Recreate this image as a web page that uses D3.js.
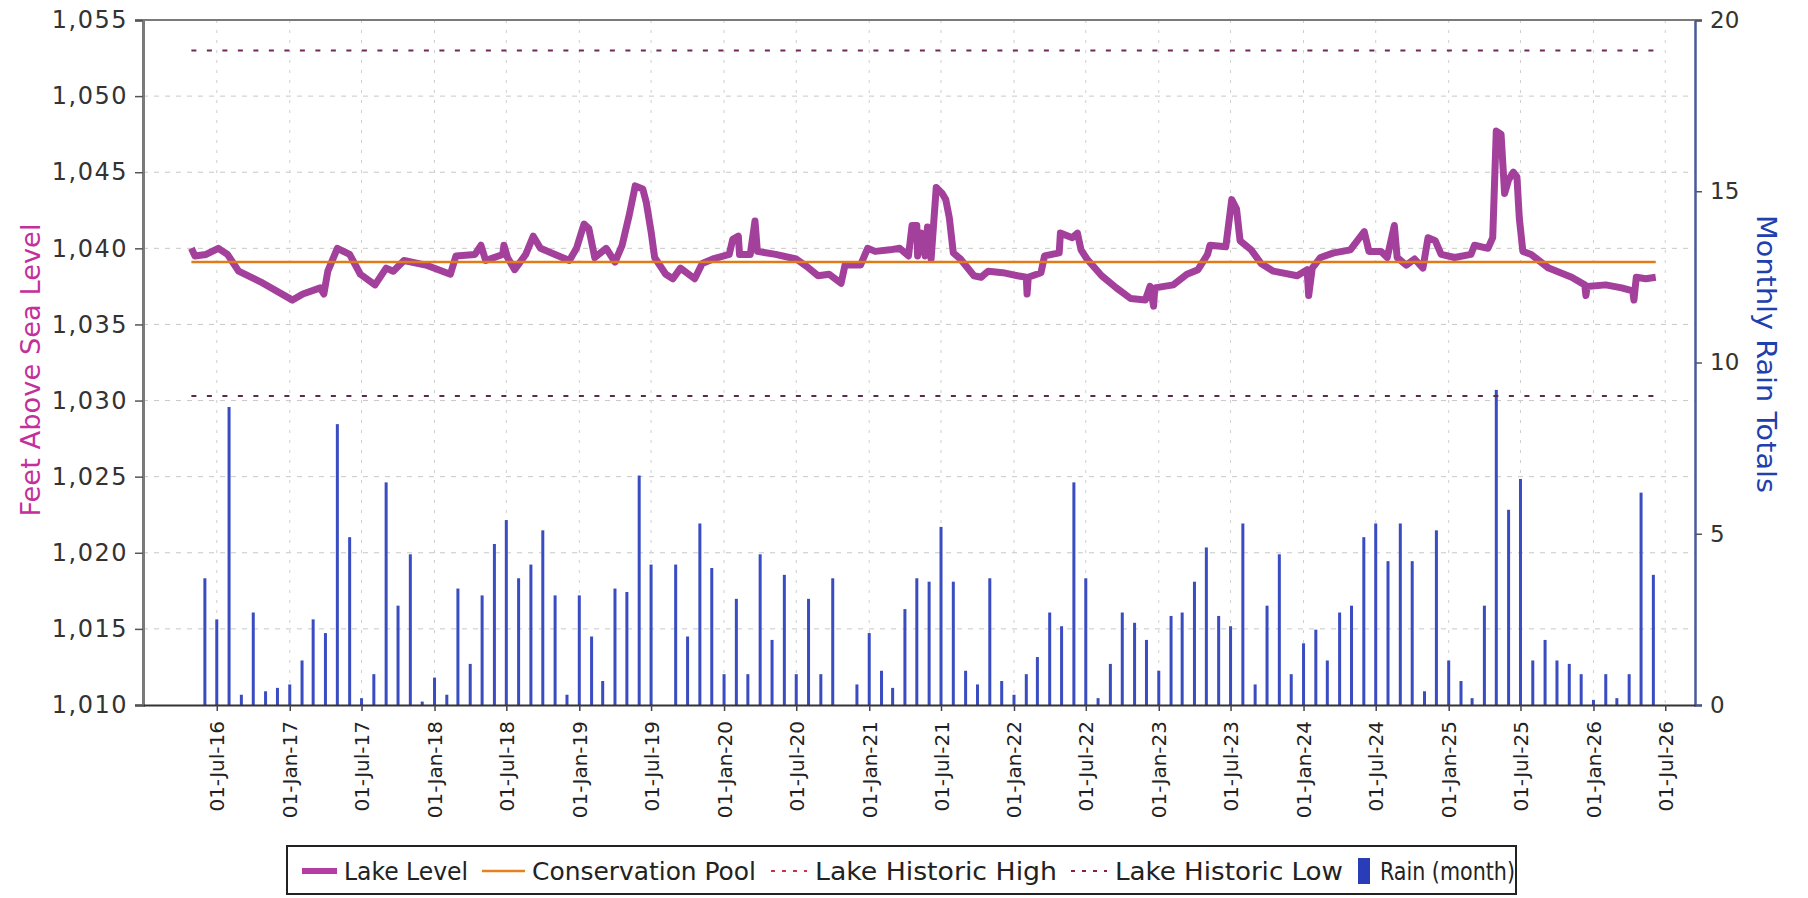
<!DOCTYPE html>
<html>
<head>
<meta charset="utf-8">
<script src="https://cdn.jsdelivr.net/npm/d3@7"></script>
<style>
  body { margin: 0; background: #fff; }
  svg { display: block; }
</style>
</head>
<body>
<svg id="chart" width="1808" height="898"></svg>
<script>
'use strict';

// lake level readings
var levelDates = [
  '2016-04-28','2016-05-07','2016-06-04','2016-07-05','2016-07-28','2016-08-25','2016-10-19',
  '2017-01-08','2017-02-03','2017-03-19','2017-03-28','2017-04-07','2017-05-01','2017-06-01',
  '2017-06-28','2017-08-04','2017-09-01','2017-09-19','2017-10-16','2017-12-10','2018-02-10',
  '2018-02-24','2018-04-13','2018-04-28','2018-05-10','2018-06-22','2018-06-25','2018-07-04',
  '2018-07-22','2018-08-19','2018-09-07','2018-09-25','2018-11-01','2018-12-07','2018-12-25',
  '2019-01-13','2019-01-25','2019-02-09','2019-03-10','2019-04-01','2019-04-19','2019-05-07',
  '2019-05-22','2019-06-10','2019-06-19','2019-07-01','2019-07-10','2019-08-07','2019-08-25',
  '2019-09-13','2019-10-19','2019-11-07','2019-12-04','2019-12-18',
  '2020-01-14','2020-01-23','2020-02-06','2020-02-09','2020-03-07','2020-03-19','2020-03-25',
  '2020-05-10','2020-07-01','2020-07-28','2020-08-25','2020-09-22','2020-10-22','2020-11-01',
  '2020-12-10','2020-12-28','2021-01-16','2021-02-22','2021-03-19','2021-04-10','2021-04-19',
  '2021-05-01','2021-05-03','2021-05-13','2021-05-22','2021-05-28','2021-06-06','2021-06-19',
  '2021-07-04','2021-07-13','2021-07-22','2021-08-01','2021-08-19','2021-09-22','2021-10-10',
  '2021-10-28','2021-12-04','2022-01-10','2022-02-01','2022-02-03','2022-02-06','2022-03-10',
  '2022-03-19','2022-04-25','2022-04-28','2022-05-28','2022-06-10','2022-06-19','2022-07-04',
  '2022-08-10','2022-09-16','2022-10-22','2022-11-28','2022-12-10','2022-12-19','2022-12-22',
  '2023-02-07','2023-03-13','2023-04-10','2023-05-04','2023-05-10','2023-06-19','2023-07-04',
  '2023-07-16','2023-07-25','2023-08-22','2023-09-16','2023-10-17','2023-12-16',
  '2024-01-10','2024-01-14','2024-01-23','2024-02-13','2024-03-17','2024-04-28','2024-06-02',
  '2024-06-14','2024-07-14','2024-07-30','2024-08-17','2024-08-24','2024-09-16','2024-10-07',
  '2024-10-28','2024-11-10','2024-11-28','2024-12-13','2025-01-16','2025-02-26','2025-03-07',
  '2025-04-10','2025-04-22','2025-05-01','2025-05-13','2025-05-22','2025-06-01','2025-06-13',
  '2025-06-22','2025-06-28','2025-07-07','2025-07-28','2025-09-10','2025-11-07','2025-12-10',
  '2025-12-13','2025-12-16','2026-02-01','2026-03-13','2026-04-10','2026-04-13','2026-04-19',
  '2026-05-13','2026-06-07'
];
var levelValues = [
  1040.0, 1039.5, 1039.6, 1040.0, 1039.6, 1038.5, 1037.8,
  1036.6, 1037.0, 1037.4, 1037.0, 1038.5, 1040.0, 1039.6,
  1038.3, 1037.6, 1038.7, 1038.5, 1039.2, 1038.9, 1038.3,
  1039.5, 1039.6, 1040.2, 1039.2, 1039.6, 1040.2, 1039.4,
  1038.6, 1039.6, 1040.8, 1040.0, 1039.6, 1039.2, 1040.0,
  1041.6, 1041.3, 1039.4, 1040.0, 1039.1, 1040.2, 1042.2,
  1044.1, 1043.9, 1043.0, 1041.1, 1039.4, 1038.3, 1038.0,
  1038.7, 1038.0, 1039.0, 1039.3, 1039.4,
  1039.6, 1040.6, 1040.8, 1039.6, 1039.6, 1041.8, 1039.8,
  1039.6, 1039.3, 1038.8, 1038.2, 1038.3, 1037.7, 1038.9,
  1038.9, 1040.0, 1039.8, 1039.9, 1040.0, 1039.5, 1041.5,
  1041.5, 1039.5, 1041.0, 1039.5, 1041.4, 1039.3, 1044.0,
  1043.6, 1043.2, 1042.0, 1039.7, 1039.3, 1038.2, 1038.1,
  1038.5, 1038.4, 1038.2, 1038.1, 1037.0, 1038.1, 1038.4,
  1039.5, 1039.7, 1041.0, 1040.7, 1041.0, 1039.9, 1039.3,
  1038.2, 1037.4, 1036.7, 1036.6, 1037.5, 1036.2, 1037.4,
  1037.6, 1038.3, 1038.6, 1039.6, 1040.2, 1040.1, 1043.2,
  1042.6, 1040.5, 1039.9, 1039.0, 1038.5, 1038.2,
  1038.6, 1036.9, 1038.7, 1039.4, 1039.7, 1039.9, 1041.1,
  1039.8, 1039.8, 1039.4, 1041.5, 1039.4, 1038.9, 1039.3,
  1038.7, 1040.7, 1040.5, 1039.6, 1039.4, 1039.6, 1040.2,
  1040.0, 1040.7, 1047.7, 1047.5, 1043.6, 1044.5, 1045.0,
  1044.7, 1042.0, 1039.8, 1039.6, 1038.7, 1038.1, 1037.6,
  1036.9, 1037.5, 1037.6, 1037.4, 1037.2, 1036.6, 1038.1,
  1038.0, 1038.1
];

// reference levels
var poolLevel = 1039.1;
var historicHigh = 1053.0;
var historicLow = 1030.3;

// monthly rain totals, Jun 2016 .. Jun 2026 (one row per year)
var rainStart = '2016-06-01';
var rainTotals = [
  3.7, 2.5, 8.7, 0.3, 2.7, 0.4, 0.5,
  0.6, 1.3, 2.5, 2.1, 8.2, 4.9, 0.2, 0.9, 6.5, 2.9, 4.4, 0.1,
  0.8, 0.3, 3.4, 1.2, 3.2, 4.7, 5.4, 3.7, 4.1, 5.1, 3.2, 0.3,
  3.2, 2.0, 0.7, 3.4, 3.3, 6.7, 4.1, 0.0, 4.1, 2.0, 5.3, 4.0,
  0.9, 3.1, 0.9, 4.4, 1.9, 3.8, 0.9, 3.1, 0.9, 3.7, 0.0, 0.6,
  2.1, 1.0, 0.5, 2.8, 3.7, 3.6, 5.2, 3.6, 1.0, 0.6, 3.7, 0.7,
  0.3, 0.9, 1.4, 2.7, 2.3, 6.5, 3.7, 0.2, 1.2, 2.7, 2.4, 1.9,
  1.0, 2.6, 2.7, 3.6, 4.6, 2.6, 2.3, 5.3, 0.6, 2.9, 4.4, 0.9,
  1.8, 2.2, 1.3, 2.7, 2.9, 4.9, 5.3, 4.2, 5.3, 4.2, 0.4, 5.1,
  1.3, 0.7, 0.2, 2.9, 9.2, 5.7, 6.6, 1.3, 1.9, 1.3, 1.2, 0.9,
  0.15, 0.9, 0.2, 0.9, 6.2, 3.8
];

// axis ticks
var levelTicks = [1010, 1015, 1020, 1025, 1030, 1035, 1040, 1045, 1050, 1055];
var rainTicks = [0, 5, 10, 15, 20];
var xTickDates = [
  '2016-07-01','2017-01-01','2017-07-01','2018-01-01','2018-07-01','2019-01-01','2019-07-01',
  '2020-01-01','2020-07-01','2021-01-01','2021-07-01','2022-01-01','2022-07-01','2023-01-01',
  '2023-07-01','2024-01-01','2024-07-01','2025-01-01','2025-07-01','2026-01-01','2026-07-01'
];

var legendLabels = ['Lake Level', 'Conservation Pool', 'Lake Historic High', 'Lake Historic Low', 'Rain (month)'];

var parse = d3.timeParse('%Y-%m-%d');

var margin = { top: 20, right: 113, bottom: 193, left: 143 };
var W = 1808, H = 898;
var plotRight = W - margin.right;
var plotBottom = H - margin.bottom;

var svg = d3.select('#chart');

var x = d3.scaleTime()
  .domain([parse('2015-12-28'), parse('2026-09-14')])
  .range([margin.left, plotRight]);
var yLevel = d3.scaleLinear().domain([1010, 1055]).range([plotBottom, margin.top]);
var yRain = d3.scaleLinear().domain([0, 20]).range([plotBottom, margin.top]);

var levelData = levelDates.map(function(d, i) {
  return { date: parse(d), value: levelValues[i] };
});
var rainData = rainTotals.map(function(v, i) {
  return { date: d3.timeMonth.offset(parse(rainStart), i), value: v };
});
var xTicks = xTickDates.map(parse);

// grid
var grid = svg.append('g');
grid.selectAll('.hgrid')
  .data(levelTicks.slice(1, -1))
  .enter().append('line')
  .attr('x1', margin.left).attr('x2', plotRight)
  .attr('y1', function(d) { return yLevel(d); })
  .attr('y2', function(d) { return yLevel(d); })
  .attr('stroke', '#c8c8c8').attr('stroke-width', 1)
  .attr('stroke-dasharray', '5,6');
grid.selectAll('.vgrid')
  .data(xTicks)
  .enter().append('line')
  .attr('x1', function(d) { return x(d); })
  .attr('x2', function(d) { return x(d); })
  .attr('y1', margin.top).attr('y2', plotBottom)
  .attr('stroke', '#cfcfcf').attr('stroke-width', 1)
  .attr('stroke-dasharray', '3,7');

// rain bars
svg.append('g').selectAll('rect')
  .data(rainData)
  .enter().append('rect')
  .attr('x', function(d) { return x(d.date) - 1.5; })
  .attr('y', function(d) { return yRain(d.value); })
  .attr('width', 3)
  .attr('height', function(d) { return plotBottom - yRain(d.value); })
  .attr('fill', '#3a4cc2');

// historic high / low and conservation pool span the level record
var first = levelData[0].date, last = levelData[levelData.length - 1].date;

function flatLine(value, color, width, dash) {
  svg.append('line')
    .attr('x1', x(first)).attr('x2', x(last))
    .attr('y1', yLevel(value)).attr('y2', yLevel(value))
    .attr('stroke', color).attr('stroke-width', width)
    .attr('stroke-dasharray', dash);
}
flatLine(historicHigh, '#6e2a55', 2, '5,10.5');
flatLine(historicLow, '#5e2a4a', 2, '5,10.5');

// lake level
var line = d3.line()
  .x(function(d) { return x(d.date); })
  .y(function(d) { return yLevel(d.value); });
svg.append('path')
  .datum(levelData)
  .attr('d', line)
  .attr('fill', 'none')
  .attr('stroke', '#a3409b')
  .attr('stroke-width', 7)
  .attr('stroke-linejoin', 'round');

flatLine(poolLevel, '#e07b1a', 2.5, null);

// axes
var font = 'DejaVu Sans, Verdana, sans-serif';

var leftAxis = svg.append('g')
  .attr('transform', 'translate(' + margin.left + ',0)')
  .call(d3.axisLeft(yLevel).tickValues(levelTicks).tickFormat(d3.format(',')).tickSize(8).tickPadding(7));
leftAxis.select('.domain').attr('stroke', '#7a7a7a').attr('stroke-width', 3);
leftAxis.selectAll('.tick line').attr('stroke', '#555').attr('stroke-width', 1.5);
leftAxis.selectAll('.tick text').attr('font-family', font).attr('font-size', 24)
  .attr('letter-spacing', 1.5).attr('fill', '#333');

var rightAxis = svg.append('g')
  .attr('transform', 'translate(' + plotRight + ',0)')
  .call(d3.axisRight(yRain).tickValues(rainTicks).tickSize(7).tickPadding(8));
rightAxis.select('.domain').attr('stroke', '#4a5a9c').attr('stroke-width', 2.5);
rightAxis.selectAll('.tick line').attr('stroke', '#555').attr('stroke-width', 1.5);
rightAxis.selectAll('.tick text').attr('font-family', font).attr('font-size', 23).attr('fill', '#333');

// top border
svg.append('line')
  .attr('x1', margin.left).attr('x2', plotRight)
  .attr('y1', margin.top).attr('y2', margin.top)
  .attr('stroke', '#7a7a7a').attr('stroke-width', 2);

var bottomAxis = svg.append('g')
  .attr('transform', 'translate(0,' + plotBottom + ')')
  .call(d3.axisBottom(x).tickValues(xTicks).tickFormat(d3.timeFormat('%d-%b-%y')).tickSize(6).tickSizeOuter(0));
bottomAxis.select('.domain').attr('stroke', '#333').attr('stroke-width', 2);
bottomAxis.selectAll('.tick line').attr('stroke', '#444').attr('stroke-width', 1.5);
bottomAxis.selectAll('.tick text')
  .attr('font-family', font).attr('font-size', 20).attr('fill', '#222')
  .attr('text-anchor', 'end')
  .attr('dy', null)
  .attr('y', 0)
  .attr('transform', 'translate(7,16) rotate(-90)');

// axis titles
svg.append('text')
  .attr('transform', 'translate(40,370) rotate(-90)')
  .attr('text-anchor', 'middle')
  .attr('font-family', 'DejaVu Sans Condensed, DejaVu Sans, sans-serif')
  .attr('font-size', 27)
  .attr('fill', '#c4309b')
  .attr('textLength', 293).attr('lengthAdjust', 'spacingAndGlyphs')
  .text('Feet Above Sea Level');

svg.append('text')
  .attr('transform', 'translate(1757,354) rotate(90)')
  .attr('text-anchor', 'middle')
  .attr('font-family', 'DejaVu Sans Condensed, DejaVu Sans, sans-serif')
  .attr('font-size', 27)
  .attr('fill', '#2040ae')
  .attr('textLength', 278).attr('lengthAdjust', 'spacingAndGlyphs')
  .text('Monthly Rain Totals');

// legend
var legend = svg.append('g');
legend.append('rect')
  .attr('x', 287).attr('y', 846).attr('width', 1229).attr('height', 48)
  .attr('fill', '#fff').attr('stroke', '#222').attr('stroke-width', 2);

var ly = 871;
var legendItems = [
  { sx: 302, ex: 337, tx: 344, tl: 124, kind: 'line', color: '#b63ca5', width: 6 },
  { sx: 482, ex: 525, tx: 532, tl: 224, kind: 'line', color: '#e8801e', width: 2.5 },
  { sx: 771, ex: 807, tx: 815, tl: 242, kind: 'dash', color: '#d03050', width: 2 },
  { sx: 1071, ex: 1107, tx: 1115, tl: 228, kind: 'dash', color: '#8a2040', width: 2 },
  { sx: 1358, ex: 1370, tx: 1380, tl: 135, kind: 'box', color: '#2a3db8' }
];
legendItems.forEach(function(it, i) {
  if (it.kind === 'box') {
    legend.append('rect')
      .attr('x', it.sx).attr('y', ly - 13).attr('width', it.ex - it.sx).attr('height', 26)
      .attr('fill', it.color);
  } else {
    legend.append('line')
      .attr('x1', it.sx).attr('x2', it.ex).attr('y1', ly).attr('y2', ly)
      .attr('stroke', it.color).attr('stroke-width', it.width)
      .attr('stroke-dasharray', it.kind === 'dash' ? '4,7' : null);
  }
  legend.append('text')
    .attr('x', it.tx).attr('y', ly + 9)
    .attr('font-family', 'DejaVu Sans Condensed, DejaVu Sans, sans-serif')
    .attr('font-size', 25)
    .attr('fill', '#222')
    .attr('textLength', it.tl).attr('lengthAdjust', 'spacingAndGlyphs')
    .text(legendLabels[i]);
});
</script>
</body>
</html>
